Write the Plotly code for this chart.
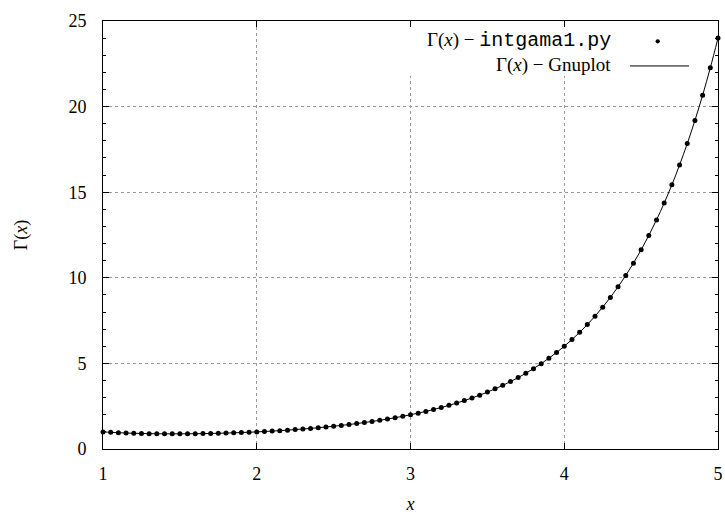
import plotly.graph_objects as go

x_vals = [1.00, 1.05, 1.10, 1.15, 1.20, 1.25, 1.30, 1.35, 1.40, 1.45,
          1.50, 1.55, 1.60, 1.65, 1.70, 1.75, 1.80, 1.85, 1.90, 1.95,
          2.00, 2.05, 2.10, 2.15, 2.20, 2.25, 2.30, 2.35, 2.40, 2.45,
          2.50, 2.55, 2.60, 2.65, 2.70, 2.75, 2.80, 2.85, 2.90, 2.95,
          3.00, 3.05, 3.10, 3.15, 3.20, 3.25, 3.30, 3.35, 3.40, 3.45,
          3.50, 3.55, 3.60, 3.65, 3.70, 3.75, 3.80, 3.85, 3.90, 3.95,
          4.00, 4.05, 4.10, 4.15, 4.20, 4.25, 4.30, 4.35, 4.40, 4.45,
          4.50, 4.55, 4.60, 4.65, 4.70, 4.75, 4.80, 4.85, 4.90, 4.95,
          5.00]

gamma_intgama = [1.0000, 0.9735, 0.9514, 0.9330, 0.9182, 0.9064, 0.8975, 0.8912, 0.8873, 0.8857,
                 0.8862, 0.8889, 0.8935, 0.9001, 0.9086, 0.9191, 0.9314, 0.9456, 0.9618, 0.9799,
                 1.0000, 1.0222, 1.0465, 1.0730, 1.1018, 1.1330, 1.1667, 1.2031, 1.2422, 1.2843,
                 1.3293, 1.3778, 1.4296, 1.4852, 1.5446, 1.6084, 1.6765, 1.7494, 1.8274, 1.9108,
                 2.0000, 2.0955, 2.1977, 2.3070, 2.4240, 2.5493, 2.6834, 2.8273, 2.9813, 3.1465,
                 3.3233, 3.5134, 3.7170, 3.9358, 4.1704, 4.4231, 4.6942, 4.9858, 5.2995, 5.6369,
                 6.0000, 6.3913, 6.8129, 7.2671, 7.7568, 8.2852, 8.8552, 9.4715, 10.1364, 10.8554,
                 11.6316, 12.4726, 13.3812, 14.3657, 15.4305, 16.5866, 17.8380, 19.1953, 20.6681, 22.2658,
                 24.0000]

gamma_gnuplot = list(gamma_intgama)

x_ticks = [1, 2, 3, 4, 5]
y_ticks = [0, 5, 10, 15, 20, 25]

SERIF = "Liberation Serif"
MONO = "Liberation Mono"
FS = 18
LFS = 19

fig = go.Figure()
fig.add_trace(go.Scatter(x=x_vals, y=gamma_gnuplot, mode="lines",
                         line=dict(color="black", width=1, shape="spline"),
                         showlegend=False, hoverinfo="skip", cliponaxis=False))
fig.add_trace(go.Scatter(x=x_vals, y=gamma_intgama, mode="markers",
                         marker=dict(color="black", size=5),
                         showlegend=False, cliponaxis=False))

axis_common = dict(showline=True, linecolor="black", linewidth=1, mirror="ticks",
                   ticks="inside", ticklen=6, tickcolor="black", automargin=False,
                   showgrid=True, gridcolor="#9a9a9a", griddash="dot", gridwidth=1,
                   zeroline=False, tickfont=dict(family=SERIF, size=FS, color="black"))

fig.update_xaxes(range=[1, 5], tickvals=x_ticks, ticklabelstandoff=8, **axis_common,
                 title=dict(text="<i>x</i>", font=dict(family=SERIF, size=FS, color="black"), standoff=14))
fig.update_yaxes(range=[0, 25], tickvals=y_ticks, ticklabelstandoff=12, **axis_common,
                 minor=dict(ticks="inside", ticklen=3, tickcolor="black", dtick=1, showgrid=False),
                 title=dict(text="Γ(<i>x</i>)", font=dict(family=SERIF, size=FS, color="black"), standoff=36))

# legend background (opaque, like gnuplot key)
fig.add_shape(type="rect", xref="x", yref="y", x0=2.85, x1=4.75, y0=21.8, y1=24.95,
              fillcolor="white", line=dict(width=0), layer="between")

fig.add_annotation(xref="paper", yref="paper", x=0.829, y=0.955, xanchor="right", yanchor="middle",
                   showarrow=False,
                   text="Γ(<i>x</i>) − <span style='font-family:" + MONO + ";font-size:20px'>intgama1.py</span>",
                   font=dict(family=SERIF, size=LFS, color="black"))
fig.add_annotation(xref="paper", yref="paper", x=0.829, y=0.897, xanchor="right", yanchor="middle",
                   showarrow=False,
                   text="Γ(<i>x</i>) − Gnuplot",
                   font=dict(family=SERIF, size=LFS, color="black"))
fig.add_shape(type="circle", xref="paper", yref="paper", x0=0.8985, x1=0.9055, y0=0.9475, y1=0.9575,
              fillcolor="black", line=dict(width=0))
fig.add_shape(type="line", xref="paper", yref="paper", x0=0.857, x1=0.953, y0=0.895, y1=0.895,
              line=dict(color="black", width=1))

fig.update_layout(width=725, height=515, plot_bgcolor="white", paper_bgcolor="white",
                  margin=dict(l=103, r=7, t=21, b=66), showlegend=False,
                  font=dict(family=SERIF, size=FS, color="black"))

fig.write_html("out.html", config={"displayModeBar": False},
               post_script="document.body.style.margin='0';document.body.style.overflow='hidden';")
